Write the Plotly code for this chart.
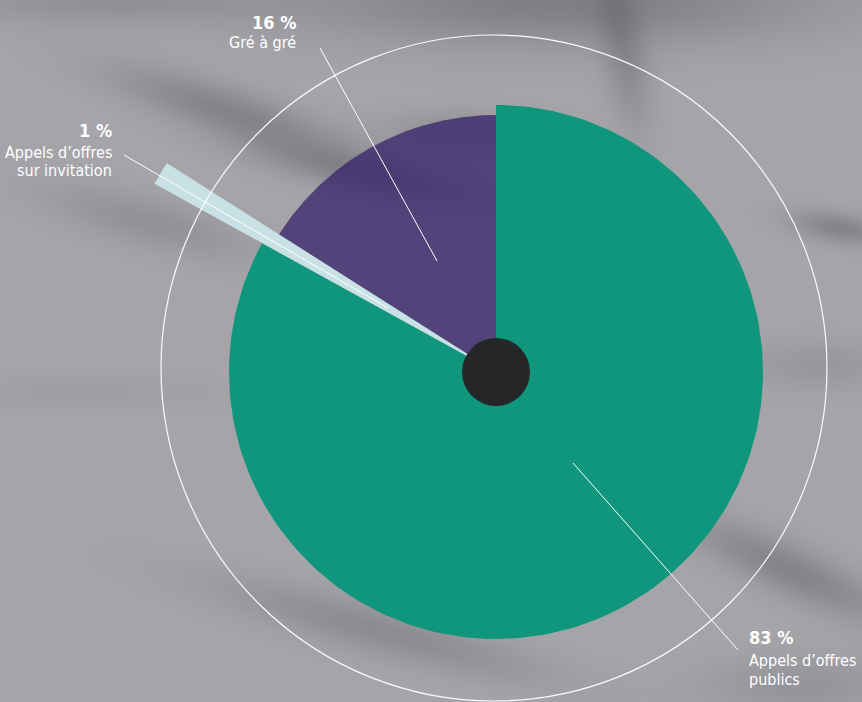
import base64, struct, zlib
import numpy as np
import plotly.graph_objects as go

# ---------------- data ----------------
categories = ["Appels d’offres publics", "Appels d’offres sur invitation", "Gré à gré"]
shares = [83, 1, 16]
pct_labels = ["83 %", "1 %", "16 %"]
name_lines = [["Appels d’offres", "publics"], ["Appels d’offres", "sur invitation"], ["Gré à gré"]]

# ---------------- style ----------------
W, H = 862, 702
CX, CY = 496, 372
style = {
    "radius": [267, 390, 257],
    "color": ["#0f967c", "#c8e1e5", "rgba(50,30,106,0.72)"],
}
FONT = "DejaVu Sans Condensed, Liberation Sans Narrow, Roboto, sans-serif"

# ---------------- background image (blurred gray photo look) ----------------
yy, xx = np.mgrid[0:H, 0:W].astype(float)
dark = np.zeros((H, W))
streaks = [
    (560, 0, 260, 45, 0, 0.7), (100, 0, 160, 25, 0, 0.35), (230, 112, 120, 24, 18, 0.6),
    (360, 172, 110, 20, 12, 0.55), (460, 130, 80, 20, 0, 0.35), (150, 222, 110, 25, 15, 0.35),
    (840, 228, 50, 15, 10, 0.6), (820, 365, 80, 25, 0, 0.25), (790, 570, 110, 25, 25, 0.6),
    (380, 630, 170, 25, 15, 0.45), (625, 60, 70, 22, 80, 0.45), (800, 685, 100, 30, 0, 0.3),
    (80, 392, 150, 18, 0, 0.12),
]
for sx, sy, L, Wd, ang, s in streaks:
    a = np.deg2rad(ang)
    u = (xx - sx) * np.cos(a) + (yy - sy) * np.sin(a)
    v = -(xx - sx) * np.sin(a) + (yy - sy) * np.cos(a)
    dark += s * np.exp(-(u / L) ** 2 - (v / Wd) ** 2)
dark = np.clip(dark, 0, 1)
base = np.array([166, 165, 170], float)
img = base[None, None, :] - dark[..., None] * 55
img = np.clip(img, 0, 255).astype(np.uint8)


def png_uri(arr):
    h, w, _ = arr.shape
    raw = b"".join(b"\x00" + arr[i].tobytes() for i in range(h))

    def chunk(t, d):
        c = struct.pack(">I", len(d)) + t + d
        return c + struct.pack(">I", zlib.crc32(t + d) & 0xFFFFFFFF)

    png = b"\x89PNG\r\n\x1a\n" + chunk(b"IHDR", struct.pack(">IIBBBBB", w, h, 8, 2, 0, 0, 0))
    png += chunk(b"IDAT", zlib.compress(raw, 9)) + chunk(b"IEND", b"")
    return "data:image/png;base64," + base64.b64encode(png).decode()


# ---------------- figure ----------------
fig = go.Figure()
cum = np.concatenate([[0], np.cumsum(shares)]) / sum(shares) * 360.0
for i, cat in enumerate(categories):
    th = np.deg2rad(np.linspace(cum[i], cum[i + 1], 200))
    r = style["radius"][i]
    xs = np.concatenate([[CX], CX + r * np.sin(th), [CX]])
    ys = np.concatenate([[CY], CY - r * np.cos(th), [CY]])
    fig.add_trace(go.Scatter(x=xs, y=ys, mode="lines", fill="toself", line=dict(width=0),
                             fillcolor=style["color"][i], name=cat, hoverinfo="name"))

# outer thin ring
fig.add_shape(type="circle", x0=494 - 333, x1=494 + 333, y0=368 - 333, y1=368 + 333,
              line=dict(color="rgba(255,255,255,0.95)", width=1.2), layer="above")
# dark hub
fig.add_shape(type="circle", x0=CX - 34, x1=CX + 34, y0=CY - 34, y1=CY + 34,
              fillcolor="#252628", line=dict(width=0), layer="above")

# leader lines
leaders = [(573, 463, 738, 650), (124, 155, 388, 308), (320, 48, 437, 261)]
for x0, y0, x1, y1 in leaders:
    fig.add_shape(type="line", x0=x0, y0=y0, x1=x1, y1=y1,
                  line=dict(color="white", width=1), layer="above")

# labels
label_pos = [  # (x, anchor, y of percent line, y of first name line, line pitch)
    (747, "left", 637, 660, 19.5),
    (114, "right", 130, 152, 18.5),
    (298, "right", 22, 42, 20),
]
for i in range(3):
    x, anc, yp, yn, pitch = label_pos[i]
    fig.add_annotation(x=x, y=yp, text="<b>" + pct_labels[i] + "</b>", showarrow=False,
                       xanchor=anc, yanchor="middle", font=dict(family=FONT, size=18, color="white"))
    for k, line in enumerate(name_lines[i]):
        fig.add_annotation(x=x, y=yn + k * pitch, text=line, showarrow=False,
                           xanchor=anc, yanchor="middle", font=dict(family=FONT, size=16, color="white"))

fig.update_layout(
    width=W, height=H, margin=dict(l=0, r=0, t=0, b=0),
    paper_bgcolor="#a6a5aa", plot_bgcolor="rgba(0,0,0,0)", showlegend=False,
    xaxis=dict(range=[0, W], visible=False, fixedrange=True),
    yaxis=dict(range=[H, 0], visible=False, fixedrange=True),
    images=[dict(source=png_uri(img), xref="paper", yref="paper", x=0, y=1, sizex=1, sizey=1,
                 sizing="stretch", layer="below", xanchor="left", yanchor="top")],
)
fig.write_html("out.html", config={"displayModeBar": False},
               post_script="document.body.style.margin='0';document.body.style.overflow='hidden';")
